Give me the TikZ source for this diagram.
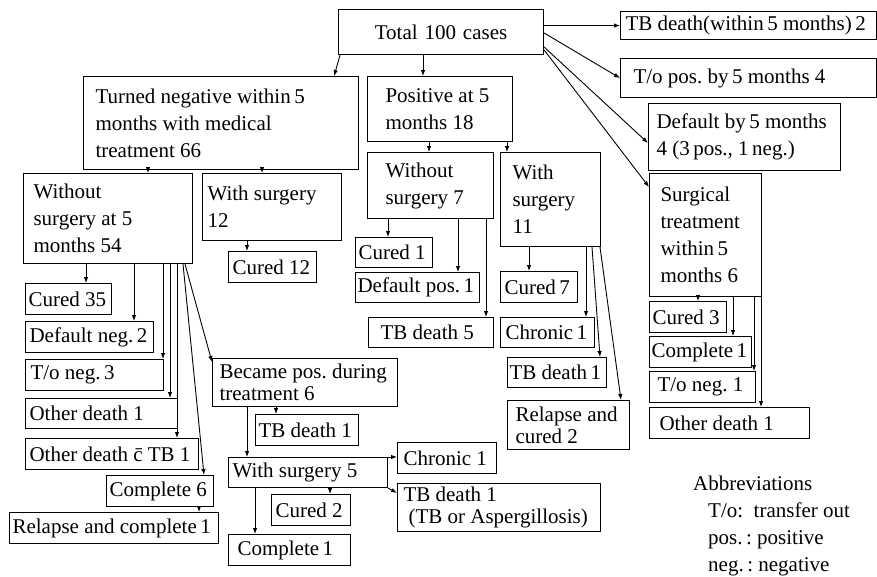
\documentclass[tikz,border=0pt]{standalone}
\usepackage{fontspec}
\setmainfont{Liberation Serif}
\usetikzlibrary{arrows.meta}
\frenchspacing
\newcommand{\boxfont}{\fontsize{21}{27}\selectfont}
\newcommand{\tightfont}{\fontsize{21}{22}\selectfont}

\begin{document}
\begin{tikzpicture}[x=1pt,y=-1pt]
\tikzset{
  box/.style n args={3}{draw, line width=1.1pt, anchor=north west, inner sep=0pt,
    align=left, font=\boxfont, minimum width=#1pt, minimum height=#2pt, text width=#3pt,
    execute at begin node={\spaceskip=0pt\xspaceskip=0pt\hyphenpenalty=10000\relax}},
  tight/.style={font=\tightfont},
  arr/.style={-{Latex[length=6pt,width=4.5pt]}, line width=0.9pt}
}
\useasboundingbox (0,0) rectangle (877,576);
% root and its right-hand outcomes
\node[box={205}{45}{185}, align=center] (tot) at (338,9) {Total 100 cases};
\node[box={256}{28}{246}] (tbd) at (620,11) {TB death(within\,5 months)\,2};
\node[box={256}{39}{230}] (top) at (620,58) {T/o pos. by\,5 months 4};
\node[box={192}{67}{176}] (dft) at (648,103) {Default by\,5 months\\4 (3\,pos., 1\,neg.)};
\node[box={112}{123}{90}] (srg) at (649,173) {Surgical\\treatment\\within\,5\\months 6};
\node[box={77}{31}{71}] (cu3) at (649,301) {Cured 3};
\node[box={102}{31}{98}] (cp1) at (649,336) {Complete\,1};
\node[box={106}{31}{90}] (tn1) at (649,371) {T/o neg. 1};
\node[box={160}{31}{140}] (od1r) at (649,407) {Other death 1};
% turned negative branch
\node[box={275}{93}{251}] (neg) at (83,76) {Turned negative within\,5\\months with medical\\treatment 66};
\node[box={169}{90}{149}] (wo54) at (23,173) {Without\\surgery at 5\\months 54};
\node[box={139}{67}{129}] (ws12) at (202,173) {With surgery\\12};
\node[box={88}{31}{80}] (cu12) at (228,251) {Cured 12};
\node[box={86}{31}{80}] (cu35) at (25,283) {Cured 35};
\node[box={128}{31}{120}] (dn2) at (25,321) {Default neg.\,2};
\node[box={138}{31}{128}] (tn3) at (25,359) {T/o neg.\,3};
\node[box={152}{30}{144}] (od1) at (25,398) {Other death 1};
\node[box={173}{31}{165}] (odtb) at (25,438) {Other death \={c} TB 1};
\node[box={107}{31}{101}] (cp6) at (106,475) {Complete 6};
\node[box={209}{31}{203}] (rcp1) at (9,512) {Relapse and complete\,1};
\node[box={185}{48}{171}, tight] (bpos) at (212,358) {Became pos. during\\treatment 6};
\node[box={103}{31}{97}] (tb1m) at (255,414) {TB death 1};
\node[box={159}{30}{151}] (ws5) at (228,457) {With surgery 5};
\node[box={79}{31}{71}] (cu2) at (271,494) {Cured 2};
\node[box={122}{31}{104}] (cp1b) at (228,534) {Complete\,1};
\node[box={99}{31}{87}] (chr1m) at (397,442) {Chronic 1};
\node[box={203}{48}{191}, tight] (tbasp) at (397,483) {TB death 1\\\hspace*{5pt}(TB or Aspergillosis)};
% positive branch
\node[box={145}{65}{109}] (pos) at (367,76) {Positive at 5\\months 18};
\node[box={126}{66}{90}] (wo7) at (367,152) {Without\\surgery 7};
\node[box={100}{94}{76}] (ws11) at (500,152) {With\\surgery\\11};
\node[box={77}{30}{71}] (cu1) at (355,237) {Cured 1};
\node[box={124}{30}{120}] (dp1) at (355,272) {Default pos.\,1};
\node[box={125}{30}{101}] (tb5) at (368,317) {TB death 5};
\node[box={77}{31}{69}] (cu7) at (500,271) {Cured\,7};
\node[box={94}{30}{84}] (chr1) at (500,317) {Chronic\,1};
\node[box={99}{30}{95}] (tb1) at (507,357) {TB death\,1};
\node[box={122}{49}{106}, tight] (rlc2) at (507,400) {Relapse and\\cured 2};
% abbreviations
\node[anchor=north west, align=left, inner sep=0pt, font=\boxfont] (abbr) at (693,476)
  {Abbreviations\\\hspace*{15pt}T/o:\enspace transfer out\\\hspace*{15pt}pos.\,: positive\\\hspace*{15pt}neg.\,: negative};
% arrows from the root
\draw[arr] ([xshift=2pt]tot.south west) -- ([xshift=-25pt]neg.north east);
\draw[arr] (tot.south -| 423,0) -- (pos.north -| 423,0);
\draw[arr] (tot.east |- tbd.west) -- (tbd.west);
\draw[arr] (tot.east |- 0,33) -- (top.west);
\draw[arr] (tot.east |- 0,47) -- (dft.west |- 0,143);
\draw[arr] (tot.east |- 0,50) -- (srg.west |- 0,187);
% arrows of the turned negative branch
\draw[arr] (neg.south -| 148,0) -- (wo54.north -| 148,0);
\draw[arr] (neg.south -| 262,0) -- (ws12.north -| 262,0);
\draw[arr] (ws12.south -| 247,0) -- (cu12.north -| 247,0);
\draw[arr] (wo54.south -| 86,0) -- (cu35.north -| 86,0);
\draw[arr] (wo54.south -| 134,0) -- (dn2.north -| 134,0);
\draw[arr] (wo54.south -| 163,0) -- (tn3.north -| 163,0);
\draw[arr] (wo54.south -| 170,0) -- (od1.north -| 170,0);
\draw[arr] (wo54.south -| 177,0) -- (odtb.north -| 177,0);
\draw[arr] (wo54.south -| 183,0) -- (cp6.north -| 204,0);
\draw[arr] (wo54.south -| 185,0) -- (bpos.west |- 0,362);
\draw[arr] (cp6.south -| 199,0) -- (rcp1.north -| 199,0);
\draw[arr] (bpos.south -| 276,0) -- (tb1m.north -| 276,0);
\draw[arr] (bpos.south -| 247,0) -- (ws5.north -| 247,0);
\draw[arr] (ws5.south -| 330,0) -- (cu2.north -| 330,0);
\draw[arr] (ws5.south -| 255,0) -- (cp1b.north -| 255,0);
\draw[arr] (ws5.north east) -- (chr1m.west |- ws5.north east);
\draw[arr] (ws5.south east) -- (tbasp.west |- 0,493);
% arrows of the positive branch
\draw[arr] (pos.south -| 429,0) -- (wo7.north -| 429,0);
\draw[arr] (pos.south -| 507,0) -- (ws11.north -| 507,0);
\draw[arr] (wo7.south -| 388,0) -- (cu1.north -| 388,0);
\draw[arr] (wo7.south -| 458,0) -- (dp1.north -| 458,0);
\draw[arr] (wo7.south -| 486,0) -- (tb5.north -| 486,0);
\draw[arr] (ws11.south -| 529,0) -- (cu7.north -| 529,0);
\draw[arr] (ws11.south -| 586,0) -- (chr1.north -| 586,0);
\draw[arr] (ws11.south -| 592,0) -- (tb1.north -| 600,0);
\draw[arr] (ws11.south -| 600,0) -- (rlc2.north -| 621,0);
% arrows of the surgical branch
\draw[arr] (srg.south -| 698,0) -- (cu3.north -| 698,0);
\draw[arr] (srg.south -| 733,0) -- (cp1.north -| 733,0);
\draw[arr] (srg.south -| 754,0) -- (tn1.north -| 754,0);
\draw[arr] (srg.south -| 761,0) -- (od1r.north -| 761,0);
\end{tikzpicture}
\end{document}
